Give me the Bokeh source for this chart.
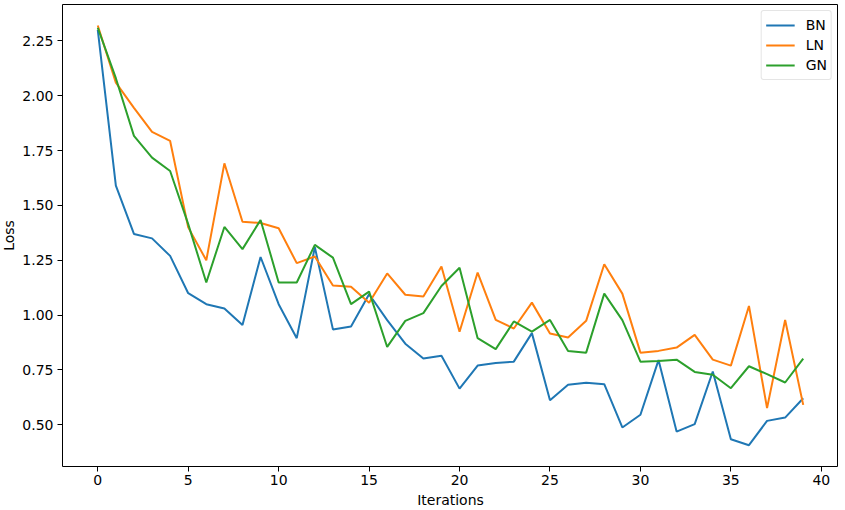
from bokeh.plotting import figure
from bokeh.models import FixedTicker, NumeralTickFormatter, Range1d, Legend, LegendItem
from bokeh.embed import file_html
from bokeh.resources import INLINE

iterations = list(range(40))
bn = [2.30, 1.59, 1.37, 1.35, 1.27, 1.10, 1.05, 1.03, 0.955, 1.265,
      1.05, 0.895, 1.31, 0.935, 0.948, 1.095, 0.977, 0.87, 0.802, 0.815,
      0.665, 0.77, 0.782, 0.788, 0.918, 0.612, 0.683, 0.692, 0.685, 0.488,
      0.546, 0.795, 0.469, 0.503, 0.743, 0.434, 0.407, 0.518, 0.533, 0.621]
ln = [2.32, 2.06, 1.945, 1.835, 1.794, 1.40, 1.25, 1.692, 1.426, 1.42,
      1.396, 1.237, 1.267, 1.135, 1.129, 1.056, 1.19, 1.093, 1.085, 1.222,
      0.924, 1.194, 0.978, 0.939, 1.057, 0.916, 0.898, 0.974, 1.232, 1.098,
      0.829, 0.837, 0.852, 0.91, 0.797, 0.77, 1.042, 0.576, 0.978, 0.591]
gn = [2.31, 2.08, 1.817, 1.718, 1.657, 1.415, 1.149, 1.402, 1.301, 1.434,
      1.149, 1.149, 1.32, 1.262, 1.05, 1.107, 0.855, 0.974, 1.009, 1.133,
      1.216, 0.895, 0.845, 0.971, 0.925, 0.978, 0.837, 0.829, 1.098, 0.977,
      0.788, 0.791, 0.797, 0.741, 0.728, 0.667, 0.767, 0.731, 0.693, 0.802]
series_names = ["BN", "LN", "GN"]
colors = ["#1f77b4", "#ff7f0e", "#2ca02c"]
x_ticks = [0, 5, 10, 15, 20, 25, 30, 35, 40]
y_ticks = [0.50, 0.75, 1.00, 1.25, 1.50, 1.75, 2.00, 2.25]

p = figure(width=840, height=518, output_backend="svg", toolbar_location=None,
           x_range=Range1d(-1.95, 40.95), y_range=Range1d(0.310, 2.416),
           min_border_left=58, min_border_right=0, min_border_top=12, min_border_bottom=0)
p.styles = {"margin-left": "-2px", "margin-top": "-8px", "margin-bottom": "-24px"}
p.grid.visible = False
p.outline_line_color = "black"
p.outline_line_width = 1
p.outline_line_alpha = 1

items = []
for name, ys, c in zip(series_names, [bn, ln, gn], colors):
    r = p.line(iterations, ys, line_color=c, line_width=2)
    items.append(LegendItem(label=name, renderers=[r]))

legend = Legend(items=items, location="top_right")
legend.label_text_font = "DejaVu Sans"
legend.label_text_font_size = "14px"
legend.label_text_color = "black"
legend.border_line_color = "#cccccc"
legend.border_line_width = 1
legend.background_fill_alpha = 0.8
legend.border_radius = 3
legend.glyph_width = 29
legend.glyph_height = 20
legend.label_height = 20
legend.label_standoff = 11
legend.spacing = 0
legend.padding = 4
legend.margin = 6
p.add_layout(legend)

for ax in (p.xaxis, p.yaxis):
    ax.axis_line_color = None
    ax.major_tick_line_color = "black"
    ax.major_tick_in = 0
    ax.major_tick_out = 5
    ax.minor_tick_line_color = None
    ax.major_label_text_font = "DejaVu Sans"
    ax.major_label_text_font_size = "14px"
    ax.major_label_text_color = "black"
    ax.axis_label_text_font = "DejaVu Sans"
    ax.axis_label_text_font_size = "14px"
    ax.axis_label_text_font_style = "normal"
    ax.axis_label_text_color = "black"

p.yaxis.major_label_standoff = 4
p.yaxis.axis_label_standoff = 2
p.yaxis.axis_label_text_line_height = 1.0
p.xaxis.major_label_standoff = 3
p.xaxis.axis_label_standoff = 4

p.xaxis.ticker = FixedTicker(ticks=x_ticks)
p.yaxis.ticker = FixedTicker(ticks=y_ticks)
p.yaxis.formatter = NumeralTickFormatter(format="0.00")
p.xaxis.axis_label = "Iterations"
p.yaxis.axis_label = "Loss"

open("out.html", "w").write(file_html(p, INLINE))
